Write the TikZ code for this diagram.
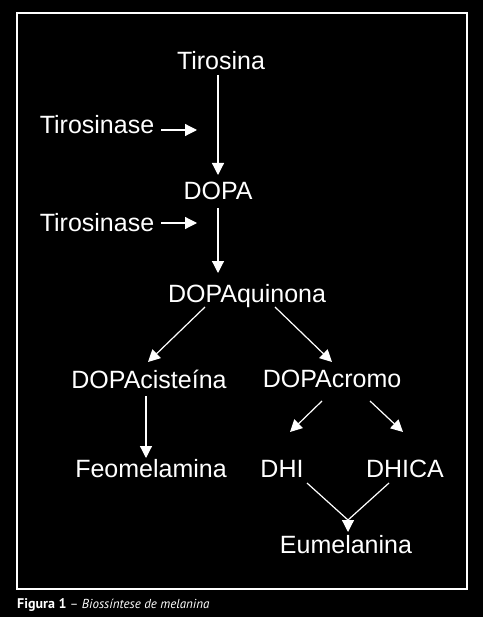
\documentclass[tikz,border=0pt]{standalone}
\usepackage{fontspec}
\setmainfont{Liberation Sans}
\newfontfamily\capfont{PT Sans}
\usetikzlibrary{arrows.meta,calc}
\tikzset{
  chem/.style={text=white, font=\fontsize{25}{30}\selectfont, inner sep=0pt, anchor=base},
  react/.style={draw=white, line width=1.2pt, -{Triangle[width=12pt,length=12pt]}},
  link/.style={draw=white, line width=1.2pt},
}
\begin{document}
\begin{tikzpicture}[x=1pt,y=-1pt]
\fill[black] (0,0) rectangle (483,617);
\useasboundingbox (0,0) rectangle (483,617);
\draw[white, line width=1.5pt] (17,13) rectangle (467,589);
% compounds
\node[chem] (tir) at (221,70) {Tirosina};
\node[chem] (tyr1) at (97,134) {Tirosinase};
\node[chem] (dopa) at (218,200) {DOPA};
\node[chem] (tyr2) at (97,232) {Tirosinase};
\node[chem] (quin) at (247,302) {DOPAquinona};
\node[chem] (cist) at (149,388) {DOPAciste\'ina};
\node[chem] (crom) at (332,387) {DOPAcromo};
\node[chem] (feo) at (151,477) {Feomelamina};
\node[chem] (dhi) at (282,477) {DHI};
\node[chem] (dhica) at (405,477) {DHICA};
\node[chem] (eum) at (346,553) {Eumelanina};
\node[anchor=base west, text=white, inner sep=0pt, font=\capfont\fontsize{13}{15}\selectfont] (cap) at (17,608) {{\fontsize{14}{15}\selectfont\textbf{Figura 1}} \textendash{} \textit{Bioss\'intese de melanina}};
% enzyme arrows
\coordinate (cat1) at ($(tyr1.base -| dopa.base)+(-21,-4)$);
\coordinate (cat2) at ($(tyr2.base -| dopa.base)+(-21,-9)$);
\draw[react] ($(tyr1.base east)+(7,-4)$) -- (cat1);
\draw[react] ($(tyr2.base east)+(7,-9)$) -- (cat2);
% reactions
\draw[react] ($(tir.base -| dopa.base)+(0,5)$) -- ($(dopa.base)+(0,-25)$);
\draw[react] ($(dopa.base)+(0,8)$) -- ($(quin.base -| dopa.base)+(0,-29)$);
\draw[react] ($(quin.base)+(-42,5)$) -- ($(cist.base)+(-1,-26)$);
\draw[react] ($(quin.base)+(28,5)$) -- ($(crom.base)+(0,-25)$);
\draw[react] ($(cist.base)+(-3,8)$) -- ($(feo.base)+(-5,-19)$);
\draw[react] ($(crom.base)+(-10,14)$) -- ($(dhi.base)+(8,-45)$);
\draw[react] ($(crom.base)+(38,14)$) -- ($(dhica.base)+(-2,-45)$);
\coordinate (merge) at ($(eum.base)+(2,-33)$);
\draw[link] ($(dhi.base)+(25,6)$) -- (merge);
\draw[link] ($(dhica.base)+(-16,6)$) -- (merge);
\draw[react] (merge) -- ($(eum.base)+(2,-21)$);
\end{tikzpicture}
\end{document}
